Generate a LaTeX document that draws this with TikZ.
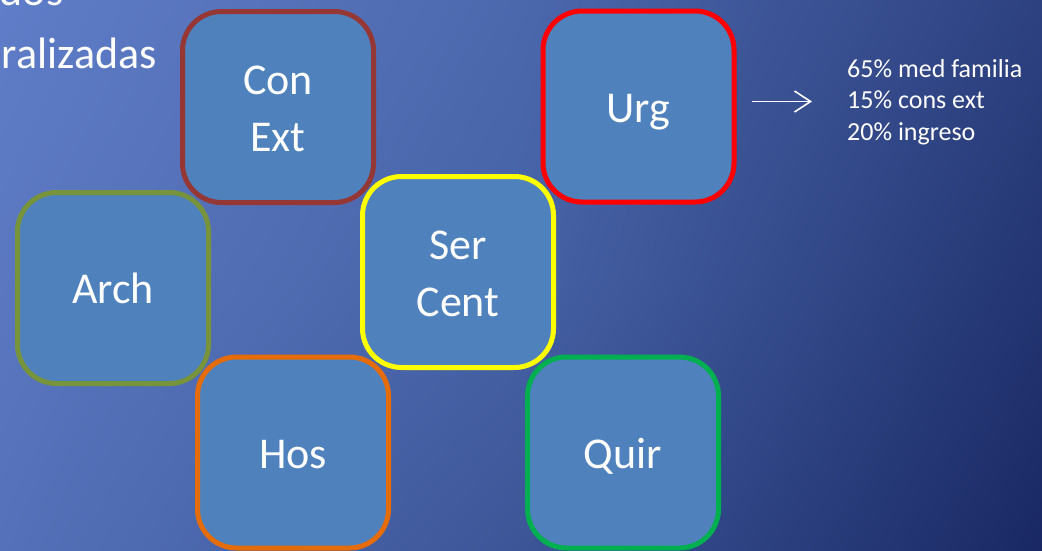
\documentclass[tikz,border=0pt]{standalone}
\usepackage{fontspec}
\setmainfont{Carlito}
\usetikzlibrary{arrows.meta,shadings}
\definecolor{boxfill}{RGB}{79,129,189}
\definecolor{cConExt}{RGB}{149,55,53}
\definecolor{cUrg}{RGB}{255,0,0}
\definecolor{cArch}{RGB}{119,147,60}
\definecolor{cSer}{RGB}{255,255,0}
\definecolor{cHos}{RGB}{228,108,10}
\definecolor{cQuir}{RGB}{0,176,80}
% background grid colours (x index, y index)
\definecolor{gAA}{RGB}{95,125,200}
\definecolor{gBA}{RGB}{76,104,173}
\definecolor{gCA}{RGB}{45,65,128}
\definecolor{gAB}{RGB}{90,119,192}
\definecolor{gBB}{RGB}{70,98,165}
\definecolor{gCB}{RGB}{35,53,114}
\definecolor{gAC}{RGB}{84,113,185}
\definecolor{gBC}{RGB}{60,85,151}
\definecolor{gCC}{RGB}{25,40,100}
\begin{document}
\begin{tikzpicture}[x=1pt,y=-1pt,
  tile/.style={draw=#1, fill=boxfill, line width=5pt, rounded corners=39pt,
    minimum width=191pt, minimum height=191pt, inner sep=0pt},
  bigtext/.style={text=white, font=\fontsize{44}{57}\selectfont, align=center, inner sep=0pt},
  sidetext/.style={text=white, font=\fontsize{26}{31.5}\selectfont, align=left, inner sep=0pt},
  pointer/.style={draw=white, line width=1.6pt, -{Straight Barb[length=16pt,width=21pt]}}]
\useasboundingbox (0,0) rectangle (1042,550);
\clip (0,0) rectangle (1042,550);
% background
\shade[upper left=gAA, upper right=gBA, lower left=gAB, lower right=gBB] (0,0) rectangle (521.6,275.6);
\shade[upper left=gBA, upper right=gCA, lower left=gBB, lower right=gCB] (521,0) rectangle (1042,275.6);
\shade[upper left=gAB, upper right=gBB, lower left=gAC, lower right=gBC] (0,275) rectangle (521.6,550);
\shade[upper left=gBB, upper right=gCB, lower left=gBC, lower right=gCC] (521,275) rectangle (1042,550);
% title fragments
\node[bigtext, anchor=base east] (t1) at (63.5,5) {dos};
\node[bigtext, anchor=base east] (t2) at (157,68) {ralizadas};
% boxes
\node[tile=cConExt] (conext) at (278,107) {};
\node[bigtext, anchor=center] (conextT) at ([yshift=-2.2pt]conext.center) {Con\\Ext};
\node[tile=cUrg] (urg) at (638.5,106.5) {};
\node[bigtext, anchor=base] (urgT) at ([yshift=-15.5pt]urg.center) {Urg};
\node[tile=cArch] (arch) at (113,288) {};
\node[bigtext, anchor=base] (archT) at ([yshift=-15.5pt]arch.center) {Arch};
\node[tile=cHos] (hos) at (293,452.5) {};
\node[bigtext, anchor=base] (hosT) at ([yshift=-15.5pt]hos.center) {Hos};
\node[tile=cQuir] (quir) at (623,452.5) {};
\node[bigtext, anchor=base] (quirT) at ([yshift=-15.5pt]quir.center) {Quir};
\node[tile=cSer] (sercent) at (458,272) {};
\node[bigtext, anchor=center] (sercentT) at ([yshift=-2.2pt]sercent.center) {Ser\\Cent};
% side note
\coordinate (arrA) at (752,101.5);
\coordinate (arrB) at (812,101.5);
\draw[pointer] (arrA) -- (arrB);
\node[sidetext, anchor=north west] (note) at (847,58.8) {65\% med familia\\15\% cons ext\\20\% ingreso};
\end{tikzpicture}
\end{document}
